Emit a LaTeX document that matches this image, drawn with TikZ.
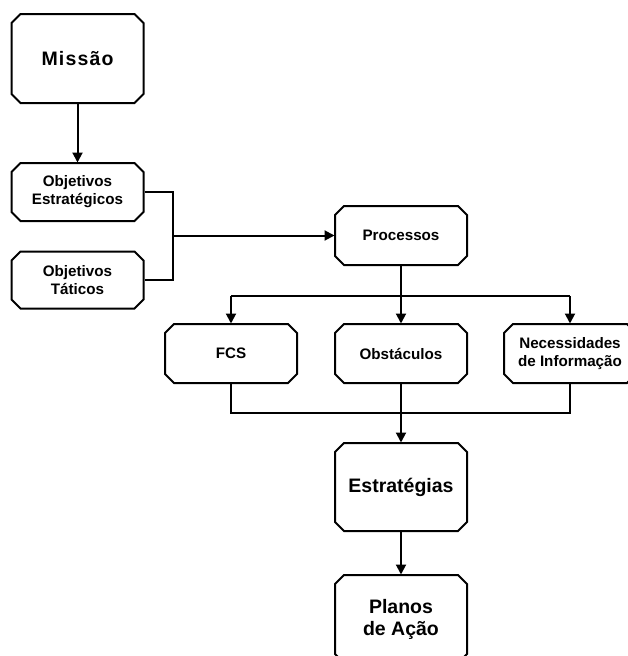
\documentclass[tikz,border=0pt]{standalone}
\usepackage{fontspec}
\setmainfont{Liberation Sans}
\usetikzlibrary{shapes.misc,arrows.meta}
\tikzset{
  box/.style={draw, line width=2pt, chamfered rectangle, chamfered rectangle sep=4.5pt,
    inner sep=0pt, minimum width=132pt, align=center,
    font=\bfseries\fontsize{15.2}{18}\selectfont},
  bigbox/.style={box, font=\bfseries\fontsize{19.5}{22}\selectfont},
  link/.style={line width=2pt},
  arr/.style={link, -{Triangle[length=10pt,width=10pt]}, shorten >=-0.5pt}
}
\begin{document}
\begin{tikzpicture}[x=1pt,y=-1pt]
  \useasboundingbox (0,0) rectangle (628,656);
  \clip (0,0) rectangle (628,656);
  % boxes
  \node[bigbox, minimum height=89pt] (missao) at (77.5,58.5) {\addfontfeature{LetterSpace=6}Missão};
  \node[box, minimum height=58pt] (objest) at (77.5,192) {Objetivos\\Estratégicos};
  \node[box, minimum height=57pt] (objtat) at (77.5,280) {Objetivos\\Táticos};
  \node[box, minimum height=59pt] (proc) at (401,235.5) {Processos};
  \node[box, minimum height=59pt] (fcs) at (231,353.5) {FCS};
  \node[box, minimum height=59pt] (obst) at (401,353.5) {Obstáculos};
  \node[box, minimum height=59pt] (nec) at (570,353.5) {Necessidades\\de Informação};
  \node[bigbox, minimum height=88pt] (estr) at (401,487) {Estratégias};
  \node[bigbox, minimum height=88pt] (planos) at (401,619) {Planos\\de Ação};
  % junction points
  \coordinate (objj) at (173,235.5);
  \coordinate (busl) at (231,296);
  \coordinate (busm) at (401,296);
  \coordinate (busr) at (570,296);
  \coordinate (lowj) at (401,413);
  % connectors
  \draw[arr] (missao.south) -- (objest.north);
  \draw[link] (objest.east) -| (objj) |- (objtat.east);
  \draw[arr] (objj) -- (proc.west);
  \draw[link] (proc.south) -- (busm);
  \draw[link] (busl) -- (busr);
  \draw[arr] (busl) -- (fcs.north);
  \draw[arr] (busm) -- (obst.north);
  \draw[arr] (busr) -- (nec.north);
  \draw[link] (fcs.south) |- (lowj) -| (nec.south);
  \draw[arr] (obst.south) -- (estr.north);
  \draw[arr] (estr.south) -- (planos.north);
\end{tikzpicture}
\end{document}
